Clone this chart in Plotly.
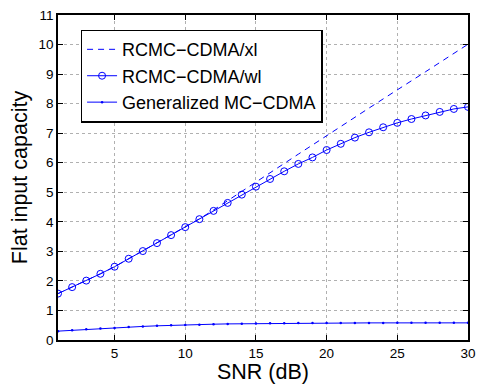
import plotly.graph_objects as go

snr = list(range(1, 31))

wl = [1.57, 1.79, 2.01, 2.24, 2.48, 2.75, 3.01, 3.28, 3.55, 3.82,
      4.09, 4.37, 4.64, 4.92, 5.19, 5.45, 5.71, 5.96, 6.18, 6.43,
      6.64, 6.85, 7.03, 7.20, 7.35, 7.48, 7.60, 7.72, 7.82, 7.89]

xl = [1.57, 1.79, 2.01, 2.24, 2.48, 2.75, 3.01, 3.28, 3.55, 3.82,
      4.10, 4.40, 4.72, 5.03, 5.34, 5.66, 5.97, 6.29, 6.60, 6.92,
      7.23, 7.54, 7.85, 8.16, 8.46, 8.77, 9.08, 9.39, 9.70, 10.01]

gen = [0.30, 0.33, 0.36, 0.39, 0.41, 0.44, 0.46, 0.48, 0.50, 0.51,
       0.52, 0.535, 0.545, 0.55, 0.56, 0.565, 0.57, 0.572, 0.575, 0.577,
       0.578, 0.578, 0.579, 0.579, 0.58, 0.58, 0.58, 0.58, 0.58, 0.58]

names = ["RCMC\u2212CDMA/xl", "RCMC\u2212CDMA/wl", "Generalized MC\u2212CDMA"]
x_ticks = [5, 10, 15, 20, 25, 30]
y_ticks = list(range(0, 12))

FONT = "Liberation Sans, Arial, Helvetica"
blue = "#0000ff"
fig = go.Figure()
fig.add_trace(go.Scatter(x=snr, y=xl, mode="lines", name=names[0],
                         line=dict(color=blue, width=1, dash="6px,5px")))
fig.add_trace(go.Scatter(x=snr, y=wl, mode="lines+markers", name=names[1],
                         line=dict(color=blue, width=1),
                         marker=dict(symbol="circle-open", size=7, color=blue,
                                     line=dict(width=1, color=blue))))
fig.add_trace(go.Scatter(x=snr, y=gen, mode="lines+markers", name=names[2],
                         line=dict(color=blue, width=1),
                         marker=dict(symbol="circle", size=2.5, color=blue)))

axis_common = dict(showline=True, linecolor="black", linewidth=1.5,
                   mirror="ticks", ticks="inside", ticklen=5, tickcolor="black",
                   showgrid=True, gridcolor="#b0b0b0", griddash="dot",
                   gridwidth=1, zeroline=False,
                   tickfont=dict(family=FONT, size=13.5, color="black"))

fig.update_xaxes(range=[1, 30], tickvals=x_ticks,
                 title=dict(text="SNR (dB)", standoff=0,
                            font=dict(family=FONT, size=21.5, color="black")),
                 **axis_common)
fig.update_yaxes(range=[0, 11], tickvals=y_ticks,
                 title=dict(text="Flat input capacity", standoff=5,
                            font=dict(family=FONT, size=21.5, color="black")),
                 **axis_common)

fig.update_layout(
    width=484, height=384,
    margin=dict(l=58, r=8, t=13, b=43),
    plot_bgcolor="white", paper_bgcolor="white",
    legend=dict(x=0.055, y=0.955, xanchor="left", yanchor="top",
                bgcolor="white", bordercolor="black", borderwidth=1.5,
                font=dict(family=FONT, size=18, color="black"),
                tracegroupgap=0, itemwidth=30),
    showlegend=True,
)

fig.write_html("out.html", config={"displayModeBar": False},
               post_script="document.body.style.margin='0';document.body.style.padding='0';")
